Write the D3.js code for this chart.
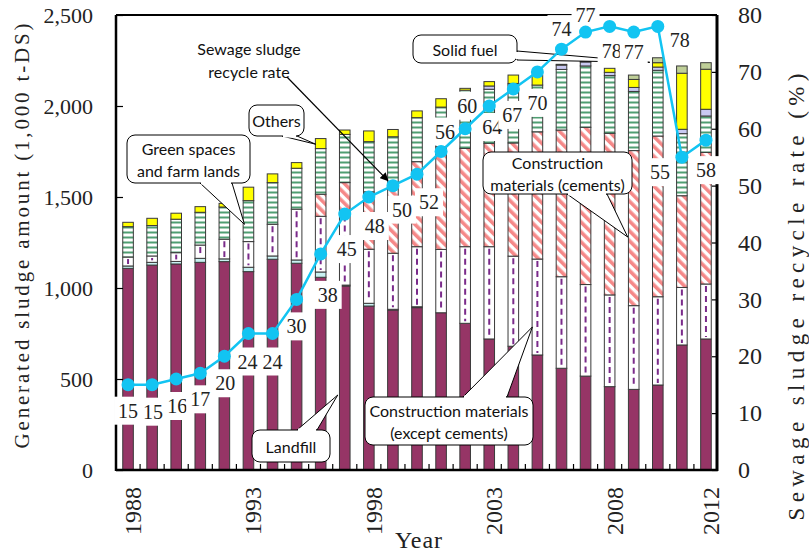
<!DOCTYPE html>
<html>
<head>
<meta charset="utf-8">
<script src="https://d3js.org/d3.v7.min.js"></script>
<style>
  body { margin: 0; background: #fff; }
  svg { display: block; }
  .serif { font-family: "Liberation Serif", "Times New Roman", serif; fill: #222; }
  .note { font-family: Lato, "Open Sans", sans-serif; font-size: 16px; fill: #111; }
</style>
</head>
<body>
<div id="chart"></div>
<script>
// categories
const years = [1988,1989,1990,1991,1992,1993,1994,1995,1996,1997,1998,1999,2000,
               2001,2002,2003,2004,2005,2006,2007,2008,2009,2010,2011,2012];
const tickYears = [1988,1993,1998,2003,2008,2012];

// sludge amounts by use, 1,000 t-DS
const landfill     = [1108,1126,1132,1141,1145,1090,1158,1136,1059,1011,901,879,892,864,806,720,680,632,559,516,458,443,467,687,720];
const ocean        = [13,15,14,22,15,24,18,18,29,5,15,4,5,0,0,0,0,0,0,0,0,0,0,0,0];
const exceptCement = [49,35,48,73,108,141,174,279,306,393,297,308,330,348,421,507,495,527,503,503,504,460,485,316,302];
const cement       = [0,0,0,0,0,0,0,0,121,170,315,375,467,564,540,568,622,699,806,864,888,852,883,504,723];
const greenFarm    = [167,167,184,180,177,225,229,225,251,265,276,265,242,218,320,297,319,257,333,337,317,325,361,341,200];
const solidFuel    = [0,0,0,0,0,0,0,0,0,0,0,0,0,0,0,18,8,0,24,22,18,22,18,24,37];
const others       = [24,40,33,31,20,74,48,31,55,24,59,40,37,46,10,24,46,55,4,5,22,44,24,308,220];
const otherUse     = [0,0,0,0,0,0,0,0,0,0,0,0,0,0,0,0,0,0,0,0,0,24,27,40,36];

// recycle rate, %
const recycleRate = [15,15,16,17,20,24,24,30,38,45,48,50,52,56,60,64,67,70,74,77,78,77,78,55,58];

// where each rate label sits relative to its point (layout only)
const labelOffset = [[0,26],[1,27],[1,27],[0,26],[1,27],[-1,28],[0,28],[0,27],[7,41],[2,35],
                     [6,29],[9,24],[12,28],[4,-20],[2,-23],[3,21],[-1,26],[0,31],[0,-20],[0,-17],
                     [2,25],[0,20],[22,14],[-22,15],[0,30]];

const W = 809, H = 554;
const L = 116, R = 717, T = 15, B = 470;

const svg = d3.select("#chart").append("svg")
  .attr("width", W).attr("height", H);

const x = d3.scaleBand().domain(years).range([L, 718]).paddingInner(0.56).paddingOuter(0.28);
const yL = d3.scaleLinear().domain([0, 2500]).range([B, T]);
const yR = d3.scaleLinear().domain([0, 80]).range([B, T]);

// patterns
const defs = svg.append("defs");
const pg = defs.append("pattern").attr("id", "pGreen")
  .attr("patternUnits", "userSpaceOnUse").attr("width", 6).attr("height", 5);
pg.append("rect").attr("width", 6).attr("height", 5).attr("fill", "#fff");
pg.append("rect").attr("y", 1.5).attr("width", 6).attr("height", 2).attr("fill", "#4f9e72");

const pp = defs.append("pattern").attr("id", "pPink")
  .attr("patternUnits", "userSpaceOnUse").attr("width", 7).attr("height", 7)
  .attr("patternTransform", "rotate(-45)");
pp.append("rect").attr("width", 7).attr("height", 7).attr("fill", "#fff");
pp.append("rect").attr("width", 3.6).attr("height", 7).attr("fill", "#f58888");

defs.append("marker").attr("id", "arrow")
  .attr("viewBox", "0 0 10 10").attr("refX", 9).attr("refY", 5)
  .attr("markerWidth", 7).attr("markerHeight", 7).attr("orient", "auto")
  .append("path").attr("d", "M0,0 L10,5 L0,10 z").attr("fill", "#000");

// stacked bars
const keys = ["landfill","ocean","exceptCement","cement","greenFarm","solidFuel","others","otherUse"];
const fills = {
  landfill: "#963566", ocean: "#c8f2f2", exceptCement: "#fff", cement: "url(#pPink)",
  greenFarm: "url(#pGreen)", solidFuel: "#c9c9f2", others: "#ffff00", otherUse: "#bfcf98"
};
const table = years.map((yr, i) => ({
  year: yr, landfill: landfill[i], ocean: ocean[i], exceptCement: exceptCement[i],
  cement: cement[i], greenFarm: greenFarm[i], solidFuel: solidFuel[i],
  others: others[i], otherUse: otherUse[i]
}));
const stacked = d3.stack().keys(keys)(table);

const bars = svg.append("g");
stacked.forEach(layer => {
  const g = bars.append("g");
  const segs = layer.filter(d => d[1] - d[0] > 0);
  g.selectAll("rect").data(segs).join("rect")
    .attr("x", d => x(d.data.year))
    .attr("y", d => yL(d[1]))
    .attr("width", x.bandwidth())
    .attr("height", d => yL(d[0]) - yL(d[1]))
    .attr("fill", fills[layer.key])
    .attr("stroke", "#3a3a3a").attr("stroke-width", 1);
  if (layer.key === "exceptCement") {
    g.selectAll("line").data(segs).join("line")
      .attr("x1", d => x(d.data.year) + x.bandwidth() / 2)
      .attr("x2", d => x(d.data.year) + x.bandwidth() / 2)
      .attr("y1", d => yL(d[1]) + 2)
      .attr("y2", d => yL(d[0]) - 2)
      .attr("stroke", "#7a2a8a").attr("stroke-width", 2)
      .attr("stroke-dasharray", "6,4");
  }
});

// axes
const axL = svg.append("g").attr("transform", `translate(${L},0)`)
  .call(d3.axisLeft(yL).tickValues([0,500,1000,1500,2000,2500])
    .tickFormat(d3.format(",")).tickSize(-7).tickPadding(23));
axL.select(".domain").remove();
axL.selectAll("text").attr("class", "serif").style("font-size", "22px");
axL.selectAll("line").attr("stroke", "#000").attr("stroke-width", 1.2);

const axR = svg.append("g").attr("transform", `translate(${R},0)`)
  .call(d3.axisRight(yR).tickValues([0,10,20,30,40,50,60,70,80]).tickSize(-5).tickPadding(21));
axR.select(".domain").remove();
axR.selectAll("text").attr("class", "serif").style("font-size", "24px");
axR.selectAll("line").attr("stroke", "#000").attr("stroke-width", 1.2);

// minor ticks between bars
svg.append("g").selectAll("line").data(years.slice(1)).join("line")
  .attr("x1", d => x(d) - x.step() * x.paddingInner() / 2)
  .attr("x2", d => x(d) - x.step() * x.paddingInner() / 2)
  .attr("y1", B).attr("y2", B - 6)
  .attr("stroke", "#000").attr("stroke-width", 1.2);

svg.append("g").selectAll("text").data(tickYears).join("text")
  .attr("class", "serif").style("font-size", "24px")
  .attr("text-anchor", "end").attr("dominant-baseline", "central")
  .attr("transform", d => `translate(${x(d) + x.bandwidth() / 2 + 5},487) rotate(-90)`)
  .text(d => d);

// frame
const frame = svg.append("g").attr("stroke", "#000").attr("fill", "none");
frame.append("line").attr("x1", L).attr("x2", L).attr("y1", T).attr("y2", B + 1).attr("stroke-width", 2.5);
frame.append("line").attr("x1", L).attr("x2", R + 1).attr("y1", B).attr("y2", B).attr("stroke-width", 2.6);
frame.append("line").attr("x1", R).attr("x2", R).attr("y1", T).attr("y2", B + 1).attr("stroke-width", 3);
frame.append("line").attr("x1", L).attr("x2", R).attr("y1", T).attr("y2", T).attr("stroke-width", 2);

// axis titles
svg.append("text").attr("class", "serif").style("font-size", "21px")
  .attr("text-anchor", "middle").attr("dominant-baseline", "central")
  .attr("transform", "translate(22,236) rotate(-90)")
  .attr("textLength", 425).attr("lengthAdjust", "spacing")
  .text("Generated sludge amount (1,000 t-DS)");
svg.append("text").attr("class", "serif").style("font-size", "23px")
  .attr("text-anchor", "middle").attr("dominant-baseline", "central")
  .attr("transform", "translate(796,297) rotate(-90)")
  .attr("textLength", 447).attr("lengthAdjust", "spacing")
  .text("Sewage sludge recycle rate (%)");
svg.append("text").attr("class", "serif").style("font-size", "24px")
  .attr("text-anchor", "middle").attr("x", 419).attr("y", 548)
  .style("letter-spacing", "1px")
  .text("Year");

// callouts: box in page pixels, tip anchored to a bar segment
const callouts = [
  { lines: ["Green spaces", "and farm lands"], box: [127,135,123,48], base: [[200,183],[232,183]], tip: [1993, 1350, -4] },
  { lines: ["Others"], box: [249,105,55,31], base: [[282,136],[297,136]], tip: [1996, 1790, -5] },
  { lines: ["Solid fuel"], box: [413,35,104,28], base: [[517,51],[517,60]], tip: [2010, 2240, -8] },
  { lines: ["Construction", "materials (cements)"], box: [483,152,149,42], base: [[567,194],[607,194]], tip: [2009, 1280, -6] },
  { lines: ["Construction materials", "(except cements)"], box: [365,397,168,48], base: [[463,397],[507,397]], tip: [2005, 786, -5] },
  { lines: ["Landfill"], box: [252,430,78,32], base: [[297,430],[317,430]], tip: [1997, 412, -7] }
];
const cg = svg.append("g");
callouts.forEach(c => {
  const tx = x(c.tip[0]) + x.bandwidth() / 2 + c.tip[2];
  const ty = yL(c.tip[1]);
  const pts = [c.base[0], [tx, ty], c.base[1]];
  cg.append("polygon").attr("points", pts.map(p => p.join(",")).join(" "))
    .attr("fill", "#fff").attr("stroke", "#000").attr("stroke-width", 1);
  const [bx, by, bw, bh] = c.box;
  cg.append("rect").attr("x", bx).attr("y", by).attr("width", bw).attr("height", bh)
    .attr("rx", 8).attr("fill", "#fff").attr("stroke", "#000").attr("stroke-width", 1);
  const [p0, p1] = c.base;
  const vert = p0[0] === p1[0];
  cg.append("line")
    .attr("x1", p0[0] + (vert ? 0 : 1)).attr("y1", p0[1] + (vert ? 1 : 0))
    .attr("x2", p1[0] - (vert ? 0 : 1)).attr("y2", p1[1] - (vert ? 1 : 0))
    .attr("stroke", "#fff").attr("stroke-width", 3);
  const lh = 22;
  const cy = by + bh / 2 - (c.lines.length - 1) * lh / 2;
  c.lines.forEach((t, k) => {
    cg.append("text").attr("class", "note")
      .attr("x", bx + bw / 2).attr("y", cy + k * lh)
      .attr("text-anchor", "middle").attr("dominant-baseline", "central")
      .text(t);
  });
});

// recycle rate note with arrow
cg.append("text").attr("class", "note").attr("text-anchor", "middle")
  .attr("x", 249).attr("y", 48).attr("dominant-baseline", "central").text("Sewage sludge");
cg.append("text").attr("class", "note").attr("text-anchor", "middle")
  .attr("x", 249).attr("y", 71).attr("dominant-baseline", "central").text("recycle rate");
cg.append("line").attr("x1", 287).attr("y1", 77)
  .attr("x2", x(1999) + x.bandwidth() / 2 - 5).attr("y2", yR(50) - 5)
  .attr("stroke", "#000").attr("stroke-width", 1.2).attr("marker-end", "url(#arrow)");

// rate labels (white boxes over bars)
const cx = i => x(years[i]) + x.bandwidth() / 2;
const lab = svg.append("g");
recycleRate.forEach((v, i) => {
  const lx = cx(i) + labelOffset[i][0];
  const ly = yR(v) + labelOffset[i][1];
  lab.append("rect").attr("x", lx - 14).attr("y", ly - 14).attr("width", 28).attr("height", 28)
    .attr("fill", "#fff");
  lab.append("text").attr("class", "serif").style("font-size", "20px")
    .attr("x", lx).attr("y", ly).attr("text-anchor", "middle").attr("dominant-baseline", "central")
    .text(v);
});

// recycle rate line
const line = d3.line().x((d, i) => cx(i)).y(d => yR(d));
svg.append("path").datum(recycleRate).attr("d", line)
  .attr("fill", "none").attr("stroke", "#12c4f2").attr("stroke-width", 2.5);
svg.append("g").selectAll("circle").data(recycleRate).join("circle")
  .attr("cx", (d, i) => cx(i)).attr("cy", d => yR(d)).attr("r", 6.5)
  .attr("fill", "#12c4f2");
</script>
</body>
</html>
